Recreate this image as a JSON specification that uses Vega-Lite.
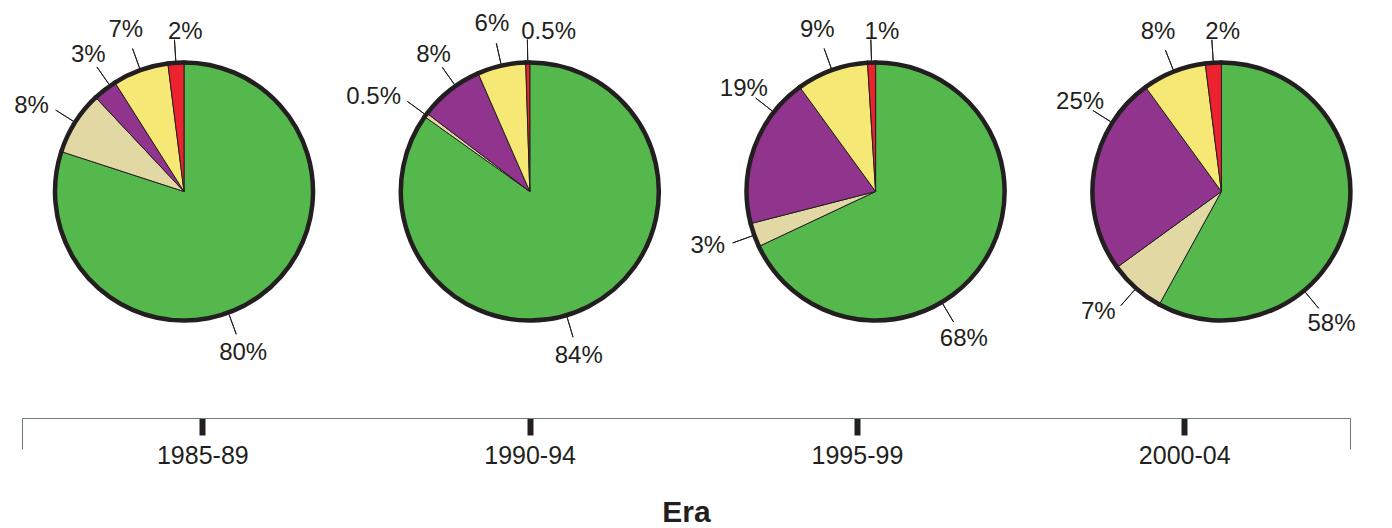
{
  "$schema": "https://vega.github.io/schema/vega-lite/v6.json",
  "width": 1328,
  "height": 383,
  "autosize": {"type": "none"},
  "padding": {"left": 22, "top": 0, "right": 42, "bottom": 145},
  "background": "#ffffff",
  "config": {"view": {"stroke": null}, "font": "Liberation Sans"},
  "data": {
    "values": [
      {"Era": "1985-89", "slice": 1, "value": 0.80},
      {"Era": "1985-89", "slice": 2, "value": 0.08},
      {"Era": "1985-89", "slice": 3, "value": 0.03},
      {"Era": "1985-89", "slice": 4, "value": 0.07},
      {"Era": "1985-89", "slice": 5, "value": 0.02},
      {"Era": "1990-94", "slice": 1, "value": 0.84},
      {"Era": "1990-94", "slice": 2, "value": 0.005},
      {"Era": "1990-94", "slice": 3, "value": 0.08},
      {"Era": "1990-94", "slice": 4, "value": 0.06},
      {"Era": "1990-94", "slice": 5, "value": 0.005},
      {"Era": "1995-99", "slice": 1, "value": 0.68},
      {"Era": "1995-99", "slice": 2, "value": 0.03},
      {"Era": "1995-99", "slice": 3, "value": 0.19},
      {"Era": "1995-99", "slice": 4, "value": 0.09},
      {"Era": "1995-99", "slice": 5, "value": 0.01},
      {"Era": "2000-04", "slice": 1, "value": 0.58},
      {"Era": "2000-04", "slice": 2, "value": 0.07},
      {"Era": "2000-04", "slice": 3, "value": 0.25},
      {"Era": "2000-04", "slice": 4, "value": 0.08},
      {"Era": "2000-04", "slice": 5, "value": 0.02}
    ]
  },
  "layer": [
    {
      "transform": [
        {"stack": "value", "groupby": ["Era"], "sort": [{"field": "slice", "order": "ascending"}], "offset": "normalize", "as": ["v0", "v1"]}
      ],
      "encoding": {
        "x": {"field": "Era", "type": "nominal", "scale": {"type": "point", "padding": 0.4202, "align": 0.5575}, "axis": null}
      },
      "layer": [
        {
          "mark": {"type": "arc", "radius": 129, "stroke": "#231f20", "strokeWidth": 1, "strokeJoin": "round"},
          "encoding": {
            "theta": {"field": "v0", "type": "quantitative", "stack": null, "scale": {"domain": [0, 1]}},
            "theta2": {"field": "v1"},
            "color": {"field": "slice", "type": "nominal", "scale": {"domain": [1, 2, 3, 4, 5], "range": ["#55b84c", "#e2d8a4", "#90348e", "#f5e874", "#ec232e"]}, "legend": null}
          }
        },
        {
          "mark": {"type": "arc", "radius": 129, "radius2": 129, "fillOpacity": 0, "stroke": "#231f20", "strokeWidth": 4.5, "strokeJoin": "round"},
          "encoding": {
            "theta": {"field": "v0", "type": "quantitative", "stack": null, "scale": {"domain": [0, 1]}},
            "theta2": {"field": "v1"}
          }
        },
        {
          "transform": [
            {"filter": "datum.slice == 2 || datum.slice == 4 || datum.slice == 5"},
            {"fold": ["v0", "v1"], "as": ["edge", "pos"]},
            {"aggregate": [{"op": "mean", "field": "pos", "as": "mid"}], "groupby": ["Era", "slice", "value"]}
          ],
          "encoding": {
            "theta": {"field": "mid", "type": "quantitative", "stack": null, "scale": {"domain": [0, 1]}}
          },
          "layer": [
            {
              "mark": {"type": "arc", "radius": 152, "radius2": 131, "fillOpacity": 0, "stroke": "#231f20", "strokeWidth": 1},
              "encoding": {"theta2": {"field": "mid"}}
            },
            {
              "transform": [{"filter": "datum.slice == 2"}],
              "mark": {"type": "text", "radius": 160, "align": "right", "baseline": "middle", "fontSize": 24, "font": "Liberation Sans", "color": "#231f20"},
              "encoding": {"text": {"field": "value", "type": "quantitative", "format": ".1~%"}}
            },
            {
              "transform": [{"filter": "datum.slice == 4"}],
              "mark": {"type": "text", "radius": 172, "align": "center", "baseline": "middle", "fontSize": 24, "font": "Liberation Sans", "color": "#231f20"},
              "encoding": {"text": {"field": "value", "type": "quantitative", "format": ".1~%"}}
            },
            {
              "transform": [{"filter": "datum.slice == 5"}],
              "mark": {"type": "text", "radius": 160, "align": "left", "dx": -6, "baseline": "middle", "fontSize": 24, "font": "Liberation Sans", "color": "#231f20"},
              "encoding": {"text": {"field": "value", "type": "quantitative", "format": ".1~%"}}
            }
          ]
        },
        {
          "transform": [
            {"filter": "datum.slice == 3"},
            {"fold": ["v0", "v1"], "as": ["edge", "pos"]},
            {"aggregate": [{"op": "mean", "field": "pos", "as": "mid"}], "groupby": ["Era", "slice", "value"]}
          ],
          "encoding": {
            "theta": {"field": "mid", "type": "quantitative", "stack": null, "scale": {"domain": [0, 1], "range": [2.705, 6.021]}}
          },
          "layer": [
            {
              "mark": {"type": "arc", "radius": 152, "radius2": 131, "fillOpacity": 0, "stroke": "#231f20", "strokeWidth": 1},
              "encoding": {"theta2": {"field": "mid"}}
            },
            {
              "mark": {"type": "text", "radius": 167, "align": "center", "baseline": "middle", "fontSize": 24, "font": "Liberation Sans", "color": "#231f20"},
              "encoding": {"text": {"field": "value", "type": "quantitative", "format": ".1~%"}}
            }
          ]
        },
        {
          "transform": [{"filter": "datum.slice == 1"}],
          "encoding": {
            "theta": {"field": "value", "type": "quantitative", "stack": null, "scale": {"domain": [0, 1], "range": [1.541, 3.103]}}
          },
          "layer": [
            {
              "mark": {"type": "arc", "radius": 152, "radius2": 131, "fillOpacity": 0, "stroke": "#231f20", "strokeWidth": 1},
              "encoding": {"theta2": {"field": "value"}}
            },
            {
              "mark": {"type": "text", "radius": 172, "align": "center", "baseline": "middle", "fontSize": 24, "font": "Liberation Sans", "color": "#231f20"},
              "encoding": {"text": {"field": "value", "type": "quantitative", "format": ".1~%"}}
            }
          ]
        }
      ],
      "resolve": {"scale": {"theta": "independent"}}
    },
    {
      "mark": {"type": "point", "opacity": 0},
      "encoding": {
        "x": {
          "field": "Era", "type": "nominal",
          "scale": {"type": "point", "padding": 0.5287, "align": 0.521},
          "axis": {
            "orient": "bottom", "offset": 35, "title": "Era", "labelAngle": 0, "grid": false,
            "domainColor": "#6d7b7b", "domainWidth": 1,
            "tickColor": "#231f20", "tickWidth": 6, "tickSize": 17,
            "labelFont": "Liberation Sans", "labelFontSize": 25, "labelColor": "#231f20", "labelPadding": 8,
            "titleFont": "Liberation Sans", "titleFontSize": 30, "titleFontWeight": "bold", "titleColor": "#231f20", "titlePadding": 29
          }
        }
      }
    },
    {
      "mark": {"type": "point", "opacity": 0},
      "encoding": {
        "x": {
          "datum": 0, "type": "quantitative",
          "scale": {"domain": [0, 1], "nice": false},
          "axis": {
            "orient": "bottom", "offset": 35, "values": [0, 1], "labels": false, "domain": false, "grid": false,
            "tickSize": 31, "tickColor": "#6d7b7b", "tickWidth": 1, "title": null
          }
        }
      }
    }
  ],
  "resolve": {"scale": {"x": "independent"}, "axis": {"x": "independent"}}
}
